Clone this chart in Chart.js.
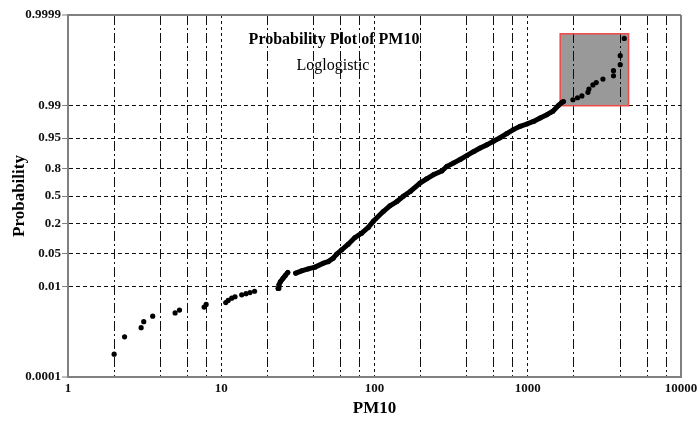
<!DOCTYPE html>
<html>
<head>
<meta charset="utf-8">
<script src="https://cdn.jsdelivr.net/npm/chart.js@4/dist/chart.umd.min.js"></script>
<style>
  body { margin: 0; background: #fff; }
  #wrap { width: 697px; height: 421px; }
</style>
</head>
<body>
<div id="wrap"><canvas id="myChart" width="697" height="421"></canvas></div>
<script>
// sparse points, lower tail
var lowPM   = [2.00, 2.34, 3.00, 3.12, 3.57, 5.00, 5.34, 7.73, 7.97, 10.7, 11.1, 11.7, 12.3, 13.6, 14.5, 15.4, 16.5];
var lowProb = [0.00032, 0.00077, 0.00123, 0.00167, 0.0022, 0.0026, 0.0030, 0.0035, 0.0040, 0.0044, 0.0049, 0.0055, 0.0059, 0.0065, 0.0069, 0.0073, 0.0078];

// dense part (many overlapping points), first short run
var densePM1   = [23.5, 23.8, 24.3, 25.3, 26.2, 27.2];
var denseProb1 = [0.0090, 0.0108, 0.0125, 0.0149, 0.0173, 0.0201];

// dense part, main run
var densePM2   = [30.6, 33.5, 36.9, 40.9, 46.3, 49.9, 53.8, 56.6, 61.1, 67.4, 74.6, 82.5, 91.1, 98.2,
                  114, 126, 140, 154, 171, 198, 219, 242, 275, 296, 327, 362, 400, 442, 489, 541,
                  597, 660, 730, 806, 892, 987, 1090, 1205, 1333, 1458, 1579, 1677];
var denseProb2 = [0.0193, 0.0217, 0.0239, 0.0261, 0.0317, 0.0342, 0.0406, 0.0493, 0.0607, 0.0794, 0.108, 0.131, 0.168, 0.216,
                  0.312, 0.378, 0.430, 0.496, 0.557, 0.659, 0.706, 0.746, 0.781, 0.818, 0.842, 0.865, 0.886, 0.905, 0.920, 0.931,
                  0.942, 0.951, 0.960, 0.967, 0.972, 0.975, 0.978, 0.9815, 0.9843, 0.9868, 0.9900, 0.9916];

// sparse points, upper tail (inside the shaded box)
var topPM   = [1711, 1971, 2112, 2256, 2470, 2507, 2662, 2798, 3094, 3628, 3628, 4013, 4013, 4263];
var topProb = [0.9919, 0.9926, 0.9933, 0.9939, 0.9949, 0.9957, 0.9965, 0.9969, 0.9974, 0.9978, 0.9983, 0.99875, 0.99921, 0.99967];

// shaded box corners
var boxPM   = [1628, 4548];
var boxProb = [0.99, 0.99974];

var xGrid = [1, 2, 4, 6, 8, 10, 20, 40, 60, 80, 100, 200, 400, 600, 800, 1000, 2000, 4000, 6000, 8000, 10000];
var xLabels = { 1: "1", 10: "10", 100: "100", 1000: "1000", 10000: "10000" };
var yTicks = [0.0001, 0.01, 0.05, 0.2, 0.5, 0.8, 0.95, 0.99, 0.9999];
var yLabels = ["0.0001", "0.01", "0.05", "0.2", "0.5", "0.8", "0.95", "0.99", "0.9999"];

var chartTitle = "Probability Plot of PM10";
var chartSub = "Loglogistic";

function logit(p) { return Math.log(p / (1 - p)); }
function pts(xs, ps) { return xs.map(function (x, i) { return { x: x, y: logit(ps[i]) }; }); }

var serif = "'Liberation Serif', 'Times New Roman', serif";
var frame = '#808080';

var boxPlugin = {
  id: 'shadeBox',
  beforeDatasetsDraw: function (chart) {
    var ctx = chart.ctx, xs = chart.scales.x, ys = chart.scales.y;
    var x1 = xs.getPixelForValue(boxPM[0]), x2 = xs.getPixelForValue(boxPM[1]);
    var y1 = ys.getPixelForValue(logit(boxProb[1])), y2 = ys.getPixelForValue(logit(boxProb[0]));
    ctx.save();
    ctx.fillStyle = 'rgba(0,0,0,0.4)';
    ctx.fillRect(x1, y1, x2 - x1, y2 - y1);
    ctx.strokeStyle = '#f04848';
    ctx.lineWidth = 1.5;
    ctx.strokeRect(x1, y1, x2 - x1, y2 - y1);
    ctx.restore();
  }
};

var titlePlugin = {
  id: 'innerTitle',
  afterDatasetsDraw: function (chart) {
    var ctx = chart.ctx;
    ctx.save();
    ctx.fillStyle = '#000';
    ctx.textAlign = 'center';
    ctx.textBaseline = 'middle';
    ctx.font = "bold 16px " + serif;
    ctx.fillText(chartTitle, 334, 40);
    ctx.font = "16px " + serif;
    ctx.fillText(chartSub, 333, 66);
    ctx.restore();
  }
};

var dotStyle = { pointRadius: 2.6, pointBackgroundColor: '#000', pointBorderWidth: 0, showLine: false };
var lineStyle = { pointRadius: 2.5, pointBackgroundColor: '#000', pointBorderWidth: 0, showLine: true,
                  borderColor: '#000', borderWidth: 5, borderCapStyle: 'round', borderJoinStyle: 'round', tension: 0 };

new Chart(document.getElementById('myChart'), {
  type: 'scatter',
  data: {
    datasets: [
      Object.assign({ data: pts(lowPM, lowProb) }, dotStyle),
      Object.assign({ data: pts(densePM1, denseProb1) }, lineStyle),
      Object.assign({ data: pts(densePM2, denseProb2) }, lineStyle),
      Object.assign({ data: pts(topPM, topProb) }, dotStyle)
    ]
  },
  plugins: [boxPlugin, titlePlugin],
  options: {
    responsive: false,
    animation: false,
    layout: { padding: { top: 15, right: 16, left: 0, bottom: 0 } },
    plugins: { legend: { display: false }, tooltip: { enabled: false } },
    scales: {
      x: {
        type: 'logarithmic',
        min: 1,
        max: 10000,
        afterFit: function (s) { s.height = 44; s.paddingLeft = 0; s.paddingRight = 0; },
        afterBuildTicks: function (s) { s.ticks = xGrid.map(function (v) { return { value: v }; }); },
        ticks: {
          autoSkip: false,
          maxRotation: 0,
          padding: 4,
          color: '#111',
          font: { family: serif, size: 13, weight: 'bold' },
          callback: function (v) { return xLabels[v] || ''; }
        },
        grid: {
          drawTicks: false,
          color: function (c) { var v = c.tick && c.tick.value; return (v === 1 || v === 10000) ? frame : '#111'; },
          lineWidth: function (c) { var v = c.tick && c.tick.value; return (v === 1 || v === 10000) ? 2 : 1; }
        },
        border: {
          color: frame,
          width: 2,
          dash: function (c) {
            if (!c.tick) return [];
            var v = c.tick.value;
            if (v === 1 || v === 10000) return [];
            return xLabels[v] ? [3, 3] : [10, 3, 2, 3];
          }
        },
        title: {
          display: true,
          text: 'PM10',
          color: '#000',
          font: { family: serif, size: 17, weight: 'bold', lineHeight: 1.2 },
          padding: { top: 0, bottom: 2 }
        }
      },
      y: {
        type: 'linear',
        min: logit(0.0001),
        max: logit(0.9999),
        afterFit: function (s) { s.width = 68; s.paddingTop = 0; s.paddingBottom = 0; },
        afterBuildTicks: function (s) { s.ticks = yTicks.map(function (p) { return { value: logit(p) }; }); },
        ticks: {
          autoSkip: false,
          padding: 1,
          color: '#111',
          font: { family: serif, size: 13, weight: 'bold' },
          callback: function (v, i) { return yLabels[i]; }
        },
        grid: {
          drawTicks: true,
          tickLength: 6,
          tickColor: frame,
          tickWidth: 1,
          tickBorderDash: [],
          color: function (c) { return (c.index === yTicks.length - 1 || c.index === 0) ? frame : '#111'; },
          lineWidth: function (c) { return (c.index === yTicks.length - 1 || c.index === 0) ? 2 : 1; }
        },
        border: {
          color: frame,
          width: 2,
          dash: function (c) {
            if (!c.tick) return [];
            if (c.index === yTicks.length - 1 || c.index === 0) return [];
            return [4, 3];
          }
        },
        title: {
          display: true,
          text: 'Probability',
          color: '#000',
          font: { family: serif, size: 17, weight: 'bold', lineHeight: 1.2 },
          padding: { top: 9, bottom: 0 }
        }
      }
    }
  }
});
</script>
</body>
</html>
